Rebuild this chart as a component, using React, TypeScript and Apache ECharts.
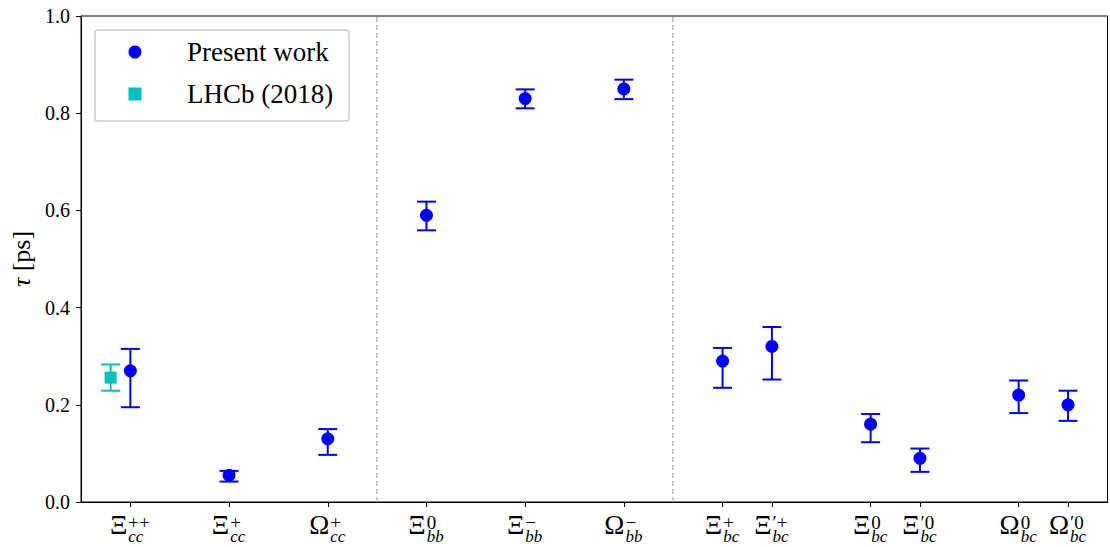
import React, { useEffect, useRef } from "react";
import * as echarts from "echarts";

// ---- data ----
const catPositions = [0, 1, 2, 3, 4, 5, 6, 6.5, 7.5, 8, 9, 9.5];
const catBase = ["Ξ", "Ξ", "Ω", "Ξ", "Ξ", "Ω", "Ξ", "Ξ", "Ξ", "Ξ", "Ω", "Ω"];
const catSup = ["++", "+", "+", "0", "−", "−", "+", "′+", "0", "′0", "0", "′0"];
const catSub = ["cc", "cc", "cc", "bb", "bb", "bb", "bc", "bc", "bc", "bc", "bc", "bc"];

const tauValues = [0.27, 0.055, 0.13, 0.59, 0.83, 0.85, 0.29, 0.32, 0.16, 0.09, 0.22, 0.2];
const tauUpper = [0.315, 0.064, 0.15, 0.618, 0.849, 0.869, 0.317, 0.36, 0.181, 0.11, 0.25, 0.229];
const tauLower = [0.195, 0.042, 0.097, 0.559, 0.81, 0.829, 0.235, 0.252, 0.123, 0.062, 0.183, 0.167];

const lhcbX = [-0.2];
const lhcbValue = [0.256];
const lhcbUpper = [0.283];
const lhcbLower = [0.229];

const yTicks = [0, 0.2, 0.4, 0.6, 0.8, 1.0];
const separators = [2.5, 5.5];

const FONT = "'Liberation Serif', 'DejaVu Serif', serif";
const BLUE = "#0000ff";
const CYAN = "#00bfbf";

function measure(text: string, font: string): number {
  const c = document.createElement("canvas");
  const ctx = c.getContext("2d")!;
  ctx.font = font;
  return ctx.measureText(text).width;
}

export default function App() {
  const ref = useRef<HTMLDivElement>(null);

  useEffect(() => {
    if (!ref.current) return;
    const chart = echarts.init(ref.current, undefined, { renderer: "svg" });

    const MAIN = 27;
    const SUP = 19;
    const SUB = 17;
    const rich: any = {};
    catPositions.forEach((_, i) => {
      const wm = measure(catBase[i], `${MAIN}px ${FONT}`) + 1;
      const ws = Math.max(
        measure(catSup[i], `${SUP}px ${FONT}`),
        measure(catSub[i], `italic ${SUB}px ${FONT}`)
      ) + 1;
      rich["m" + i] = { width: wm, align: "left", fontSize: MAIN, lineHeight: 14, fontFamily: FONT, color: "#000" };
      rich["p" + i] = {
        width: ws, align: "left", fontSize: SUP, lineHeight: 10, padding: [0, 0, 4, 0],
        fontFamily: FONT, color: "#000",
      };
      rich["e" + i] = { width: wm, align: "left", fontSize: SUB, lineHeight: 9, fontFamily: FONT, color: "#000" };
      rich["b" + i] = {
        width: ws, align: "left", fontSize: SUB, lineHeight: 9, fontFamily: FONT,
        fontStyle: "italic", color: "#000",
      };
    });
    const idxOf = (v: number) => catPositions.findIndex((p) => Math.abs(p - v) < 1e-6);

    const errData = catPositions.map((x, i) => [x, tauLower[i], tauUpper[i]]);
    const lhcbErr = lhcbX.map((x, i) => [x, lhcbLower[i], lhcbUpper[i]]);

    const makeErr = (color: string) => (params: any, api: any) => {
      const x = api.value(0);
      const lo = api.coord([x, api.value(1)]);
      const hi = api.coord([x, api.value(2)]);
      const hw = 9.5;
      const st = { stroke: color, lineWidth: 2 };
      return {
        type: "group",
        children: [
          { type: "line", shape: { x1: lo[0], y1: lo[1], x2: hi[0], y2: hi[1] }, style: st },
          { type: "line", shape: { x1: lo[0] - hw, y1: lo[1], x2: lo[0] + hw, y2: lo[1] }, style: st },
          { type: "line", shape: { x1: hi[0] - hw, y1: hi[1], x2: hi[0] + hw, y2: hi[1] }, style: st },
        ],
      };
    };

    const option: any = {
      animation: false,
      backgroundColor: "#fff",
      grid: {
        left: 81,
        right: 2.5,
        top: 16,
        bottom: 45,
        show: true,
        borderColor: "#000",
        borderWidth: 1,
        backgroundColor: "transparent",
        containLabel: false,
        outerBoundsMode: "none",
      },
      legend: {
        orient: "vertical",
        left: 95,
        top: 30,
        data: ["Present work", "LHCb (2018)"],
        itemWidth: 13,
        itemHeight: 13,
        itemGap: 14,
        padding: [8, 14, 13, 33.5],
        backgroundColor: "#fff",
        borderColor: "#cccccc",
        borderWidth: 1.5,
        borderRadius: 3,
        selectedMode: false,
        textStyle: {
          fontFamily: FONT,
          fontSize: 27,
          color: "#000",
          lineHeight: 28,
          padding: [0, 0, 0, 40.5],
          width: 148,
        },
      },
      xAxis: {
        type: "value",
        position: "bottom",
        min: -0.5,
        max: 9.9,
        splitLine: { show: false },
        axisLine: { show: true, onZero: false, lineStyle: { color: "#000", width: 1 } },
        axisTick: { show: true, length: 5, customValues: catPositions, lineStyle: { color: "#000", width: 1 } },
        axisLabel: {
          customValues: catPositions,
          margin: 15.5,
          fontFamily: FONT,
          fontSize: SUB,
          color: "#000",
          formatter: (v: number) => {
            const i = idxOf(v);
            if (i < 0) return "";
            return `{m${i}|${catBase[i]}}{p${i}|${catSup[i]}}\n{e${i}| }{b${i}|${catSub[i]}}`;
          },
          rich,
        },
      },
      yAxis: {
        type: "value",
        min: yTicks[0],
        max: yTicks[yTicks.length - 1],
        interval: 0.2,
        splitLine: { show: false },
        axisLine: { show: true, onZero: false, lineStyle: { color: "#000", width: 1 } },
        axisTick: { show: true, length: 5, lineStyle: { color: "#000", width: 1 } },
        axisLabel: {
          fontFamily: FONT,
          fontSize: 20,
          color: "#000",
          margin: 11,
          formatter: (v: number) => v.toFixed(1),
        },
        name: "{t|τ} [ps]",
        nameLocation: "middle",
        nameGap: 47,
        nameRotate: 90,
        nameTextStyle: {
          fontFamily: FONT,
          fontSize: 26,
          color: "#000",
          rich: {
            t: { fontFamily: FONT, fontSize: 26, fontStyle: "italic", color: "#000" },
          },
        },
      },
      series: [
        {
          name: "errPresent",
          type: "custom",
          renderItem: makeErr(BLUE),
          encode: { x: 0, y: [1, 2] },
          data: errData,
          z: 2,
          silent: true,
        },
        {
          name: "errLHCb",
          type: "custom",
          renderItem: makeErr(CYAN),
          encode: { x: 0, y: [1, 2] },
          data: lhcbErr,
          z: 2,
          silent: true,
        },
        {
          name: "Present work",
          type: "scatter",
          symbol: "circle",
          symbolSize: 13,
          itemStyle: { color: BLUE, opacity: 1 },
          data: catPositions.map((x, i) => [x, tauValues[i]]),
          z: 3,
          markLine: {
            silent: true,
            symbol: "none",
            label: { show: false },
            lineStyle: { color: "#b8b8b8", type: [5, 3], width: 1.5 },
            data: separators.map((s) => ({ xAxis: s })),
          },
        },
        {
          name: "LHCb (2018)",
          type: "scatter",
          symbol: "rect",
          symbolSize: 12,
          itemStyle: { color: CYAN, opacity: 1 },
          data: lhcbX.map((x, i) => [x, lhcbValue[i]]),
          z: 3,
        },
      ],
    };

    chart.setOption(option);
    return () => chart.dispose();
  }, []);

  return (
    <div
      ref={ref}
      style={{ position: "fixed", left: 0, top: 0, width: 1110, height: 547, background: "#fff" }}
    />
  );
}
